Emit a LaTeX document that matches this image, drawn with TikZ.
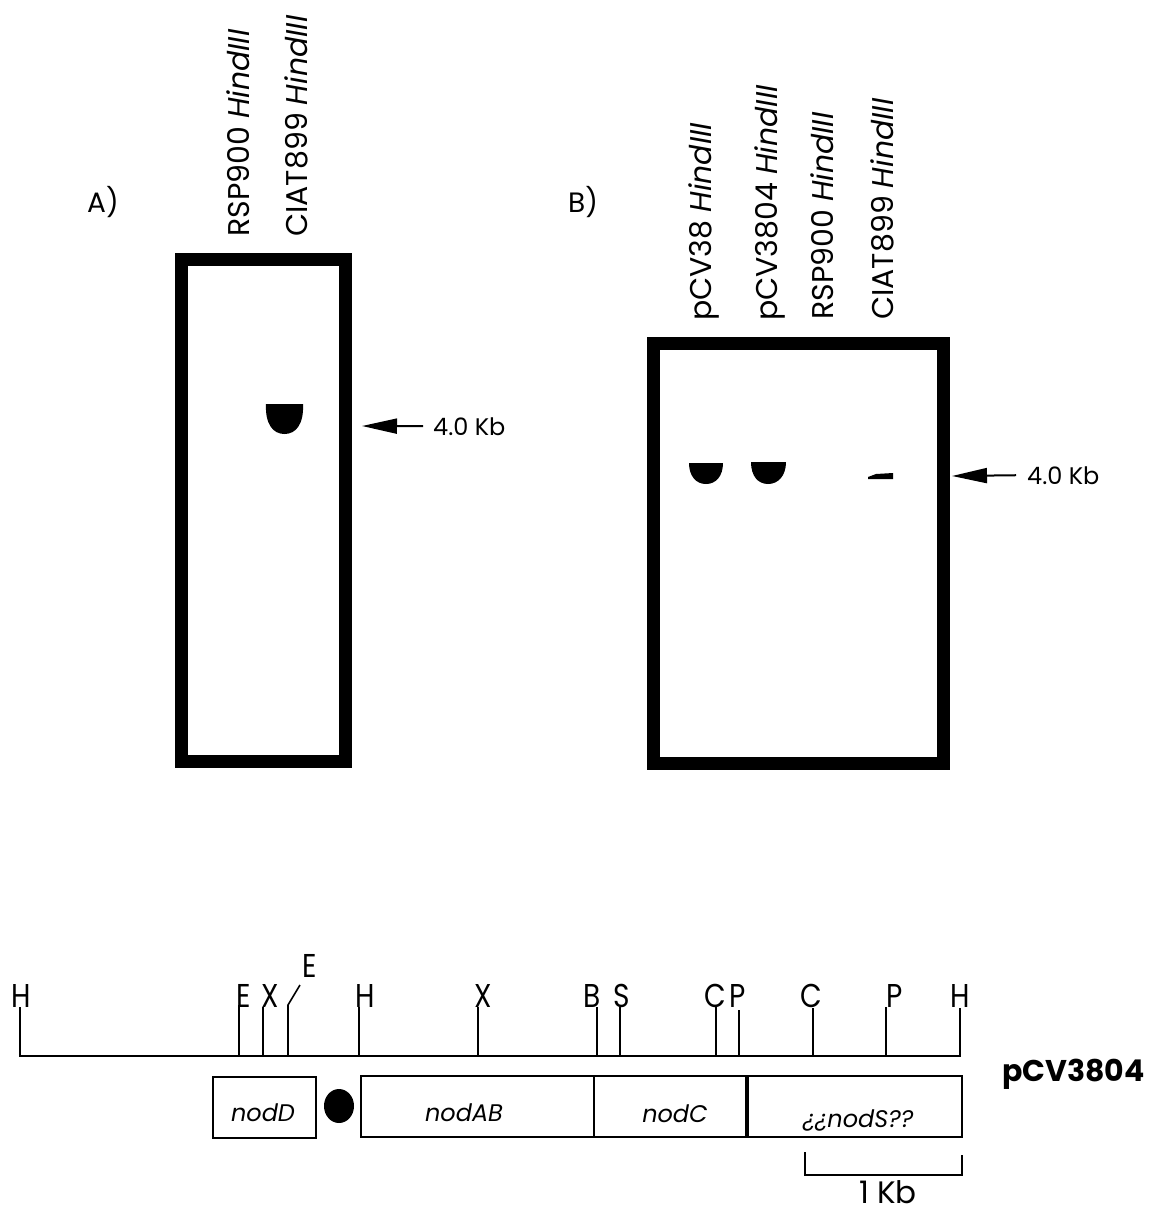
\documentclass[tikz,border=0pt]{standalone}
\usepackage{fontspec}
\setmainfont{Poppins}
\usetikzlibrary{arrows.meta}
\newcommand\sitetxt[1]{\scalebox{0.85}[1]{#1}}
\tikzset{
  gel/.style={draw, line width=13pt},
  band/.style={fill=black},
  lane/.style={rotate=90, anchor=base west, inner sep=0pt, font=\fontsize{30}{32}\selectfont},
  kb/.style={anchor=base west, inner sep=0pt, font=\fontsize{24}{26}\selectfont},
  panel/.style={anchor=base west, inner sep=0pt, font=\fontsize{28}{30}\selectfont},
  pointer/.style={line width=2pt, -{Triangle[length=35pt,width=15pt]}},
  site/.style={anchor=base, inner sep=0pt, font=\fontsize{33}{35}\selectfont},
  tick/.style={line width=1.6pt},
  genebox/.style={draw, line width=2pt},
  gene/.style={anchor=base, inner sep=0pt, font=\itshape\fontsize{24}{26}\selectfont},
}
\begin{document}
\begin{tikzpicture}[x=1pt,y=-1pt]
\useasboundingbox (0,0) rectangle (1151,1216);
\fill[white] (0,0) rectangle (1151,1216);

% ---------- Panel A ----------
\node[panel] (pa) at (87,212) {A)};
\node[lane] (la1) at (249,237) {RSP900 \textit{HindIII}};
\node[lane] (la2) at (307,237) {CIAT899 \textit{HindIII}};
\draw[gel] (181.5,259.5) rectangle (345.5,761.5);
\fill[band] (266,404) -- (303,404) .. controls (304,424) and (296,434) .. (284.5,434)
   .. controls (273,434) and (265,424) .. cycle;
\node[kb] (kbA) at (433,435) {4.0 Kb};
\coordinate (tipA) at (362,426);
\draw[pointer] ([xshift=-10pt]kbA.west) -- (tipA);

% ---------- Panel B ----------
\node[panel] (pb) at (568,212) {B)};
\node[lane] (lb1) at (711,321) {pCV38 \textit{HindIII}};
\node[lane] (lb2) at (777,321) {pCV3804 \textit{HindIII}};
\node[lane] (lb3) at (833,320) {RSP900 \textit{HindIII}};
\node[lane] (lb4) at (893,320) {CIAT899 \textit{HindIII}};
\draw[gel] (653.5,343.5) rectangle (943.5,763.5);
\fill[band] (689,463) -- (723,463) .. controls (723,476) and (716,484) .. (706,484)
   .. controls (696,484) and (689,476) .. cycle;
\fill[band] (751,462) -- (786,462) .. controls (786,476) and (778,484) .. (768,484)
   .. controls (758,484) and (751,476) .. cycle;
\fill[band] (868,477) -- (876,474) -- (893,473) -- (893,479) -- (868,479) -- cycle;
\node[kb] (kbB) at (1027,484) {4.0 Kb};
\coordinate (tipB) at (952,476);
\draw[pointer] ([xshift=-11pt]kbB.west) -- (tipB);

% ---------- Restriction map ----------
\draw[tick] (20,1007) -- (20,1056) -- (960,1056) -- (960,1008);
\foreach \x/\t in {239/1005, 263/1007, 359/1007, 478/1007, 597/1007, 620/1007,
                   716/1007, 739/1010, 813/1008, 886/1007}
  \draw[tick] (\x,1056) -- (\x,\t);
\draw[tick] (288,1056) -- (288,1005) -- (300,985);

\node[site] (h1) at (21.5,1007) {\sitetxt{H}};
\node[site] (e1) at (243.5,1007) {\sitetxt{E}};
\node[site] (x1) at (270,1007) {\sitetxt{X}};
\node[site] (e2) at (310,977) {\sitetxt{E}};
\node[site] (h2) at (365,1007) {\sitetxt{H}};
\node[site] (x2) at (483.5,1007) {\sitetxt{X}};
\node[site] (b1) at (592.5,1007) {\sitetxt{B}};
\node[site] (s1) at (621.5,1007) {\sitetxt{S}};
\node[site] (c1) at (715,1007) {\sitetxt{C}};
\node[site] (p1) at (737.5,1007) {\sitetxt{P}};
\node[site] (c2) at (811.5,1007) {\sitetxt{C}};
\node[site] (p2) at (895,1007) {\sitetxt{P}};
\node[site] (h3) at (960,1007) {\sitetxt{H}};

\node[anchor=base west, inner sep=0pt, font=\bfseries\fontsize{30}{32}\selectfont] (pcv) at (1002,1081) {pCV3804};

% ---------- Genes ----------
\draw[genebox] (213,1077) rectangle (316,1138);
\node[gene] (nodD) at (263,1121) {nodD};
\fill (339,1106) ellipse [x radius=15, y radius=17];
\draw[genebox] (361,1076) rectangle (962,1137);
\draw[line width=1.6pt] (594,1076) -- (594,1137);
\draw[line width=4pt] (747,1076) -- (747,1137);
\node[gene] (nodAB) at (464,1121) {nodAB};
\node[gene] (nodC) at (675,1122) {nodC};
\node[gene] (nodS) at (858,1127) {¿¿nodS??};

% ---------- Scale bar ----------
\draw[tick] (805,1152) -- (805,1175) -- (962,1175) -- (962,1155);
\node[anchor=base, inner sep=0pt, font=\fontsize{31}{33}\selectfont] (kb1) at (888,1203) {1 Kb};
\end{tikzpicture}
\end{document}
